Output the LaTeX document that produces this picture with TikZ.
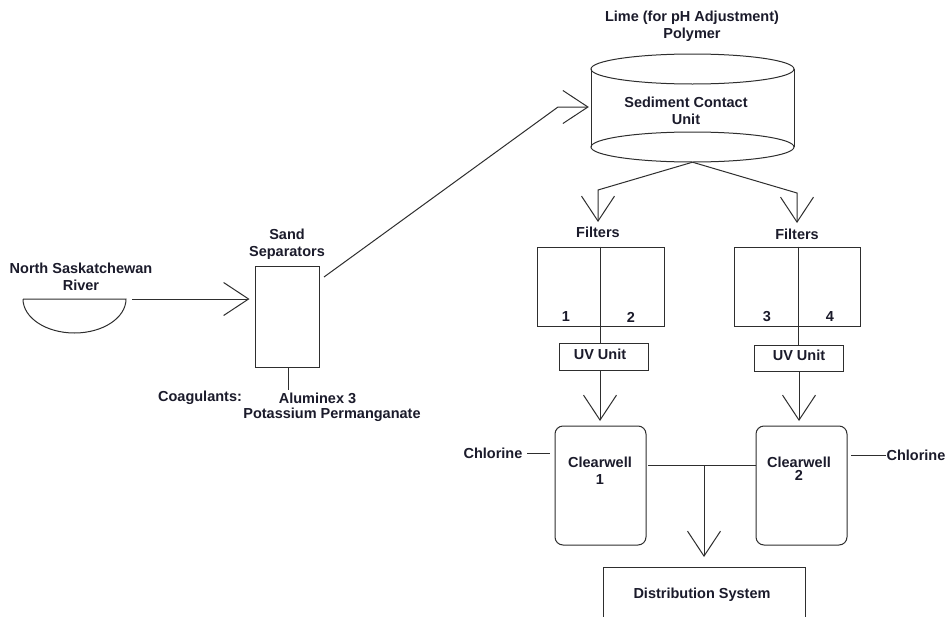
\documentclass[tikz,border=0pt]{standalone}
\usepackage{fontspec}
\setmainfont{Liberation Sans}
\usetikzlibrary{arrows.meta}
\definecolor{txt}{HTML}{1B1B2B}
\definecolor{lnc}{HTML}{2E2E2E}
\begin{document}
\begin{tikzpicture}[x=1pt,y=-1pt,
  every node/.style={font=\fontsize{14.5}{17}\selectfont\bfseries, text=txt},
  lbl/.style={inner sep=0pt, align=center},
  box/.style={draw=lnc, line width=1pt, inner sep=0pt},
  ln/.style={draw=lnc, line width=1pt},
  arr/.style={ln, -{Straight Barb[length=25pt,width=33pt,line width=1pt]}}]
\useasboundingbox (0,0) rectangle (948,616);
\fill[white] (0,0) rectangle (948,616);

% River
\draw[ln] (23,299) -- (126,299) arc[start angle=0,end angle=-180,x radius=51.5pt,y radius=34pt];
\node[lbl] (riverlbl) at (81,276.5) {North Saskatchewan\\River};
\coordinate (riv) at (126,299);

% Sand separators
\node[box, minimum width=64pt, minimum height=101pt] (sand) at (287,316.5) {};
\node[lbl] (sandlbl) at (287,244.5) {Sand\\Separators};
\draw[arr, shorten <=6pt, shorten >=5pt] (riv) -- (sand.west |- riv);
\coordinate (coag) at (288,390);
\draw[ln] (sand.south -| coag) -- (coag);
\node[lbl] (coaglbl) at (200,398) {Coagulants:};
\node[lbl] (alum) at (317.5,398) {Aluminex 3};
\node[lbl] (potas) at (332,415) {Potassium Permanganate};

% Sediment contact unit (cylinder)
\draw[ln] (692.5,69) ellipse [x radius=101.5pt, y radius=15pt];
\draw[ln] (692.5,147) ellipse [x radius=101.5pt, y radius=15pt];
\draw[ln] (591,69) -- (591,147);
\draw[ln] (794,69) -- (794,147);
\node[inner sep=0pt, minimum width=203pt, minimum height=108pt] (scu) at (692.5,108) {};
\node[lbl] (scutext) at (686,110.5) {Sediment Contact\\Unit};
\node[lbl] (lime) at (692,26) {Lime (for pH Adjustment)\\Polymer};

\coordinate (s1) at (324,277);
\coordinate (s2) at (558,107);
\draw[arr, shorten >=2pt] (s1) -- (s2) -- (scu.west |- s2);

% Branch to filters
\coordinate (bl) at (598,190);
\coordinate (br) at (797,193);
\coordinate (tl) at (598,222);
\coordinate (tr) at (797,223);
\draw[arr] (scu.south) -- (bl) -- (tl);
\draw[arr] (scu.south) -- (br) -- (tr);
\node[lbl] (filtl) at (598,232) {Filters};
\node[lbl] (filtr) at (797,234) {Filters};

% Filter boxes
\node[box, minimum width=127pt, minimum height=79pt] (fl) at (600.5,286.5) {};
\node[box, minimum width=126pt, minimum height=79pt] (fr) at (797,286.5) {};
\coordinate (dl) at (600,326);
\coordinate (dr) at (798,326);
\draw[ln] (fl.north -| dl) -- (dl);
\draw[ln] (fr.north -| dr) -- (dr);
\node[lbl] (n1) at (566,317) {1};
\node[lbl] (n2) at (631,317) {2};
\node[lbl] (n3) at (767,317) {3};
\node[lbl] (n4) at (830,317) {4};

% UV units
\node[box, minimum width=89pt, minimum height=27pt] (uvl) at (603.5,356.5) {};
\node[lbl] (uvltext) at (600,354) {UV Unit};
\node[box, minimum width=89pt, minimum height=26pt] (uvr) at (798.5,358) {};
\node[lbl] (uvrtext) at (799,355) {UV Unit};
\draw[ln] (dl) -- (uvl.north -| dl);
\draw[ln] (dr) -- (uvr.north -| dr);

% Clearwells
\node[box, rounded corners=8pt, minimum width=91pt, minimum height=119pt] (cw1) at (600.5,485.5) {};
\node[box, rounded corners=8pt, minimum width=91pt, minimum height=119pt] (cw2) at (801.5,485.5) {};
\node[lbl] (cw1text) at (600,471) {Clearwell\\1};
\node[lbl] (cw2text) at (799,468.5) {Clearwell\\[-4pt]2};
\coordinate (al) at (600,421);
\coordinate (ar) at (799,421);
\draw[arr] (uvl.south -| al) -- (al);
\draw[arr] (uvr.south -| ar) -- (ar);

% Chlorine
\node[lbl] (chl) at (493,453) {Chlorine};
\node[lbl] (chr) at (916,455) {Chlorine};
\draw[ln] (527,453) -- (550,453);
\draw[ln] (851,455) -- (chr.west);

% Distribution
\coordinate (j1) at (648,465);
\coordinate (jm) at (704,465);
\coordinate (dtip) at (704,557);
\draw[ln] (j1) -- (cw2.west |- j1);
\draw[arr] (jm) -- (dtip);
\node[box, minimum width=202pt, minimum height=66pt] (dist) at (704,600) {};
\node[lbl] (disttext) at (702,595) {Distribution System};
\end{tikzpicture}
\end{document}
